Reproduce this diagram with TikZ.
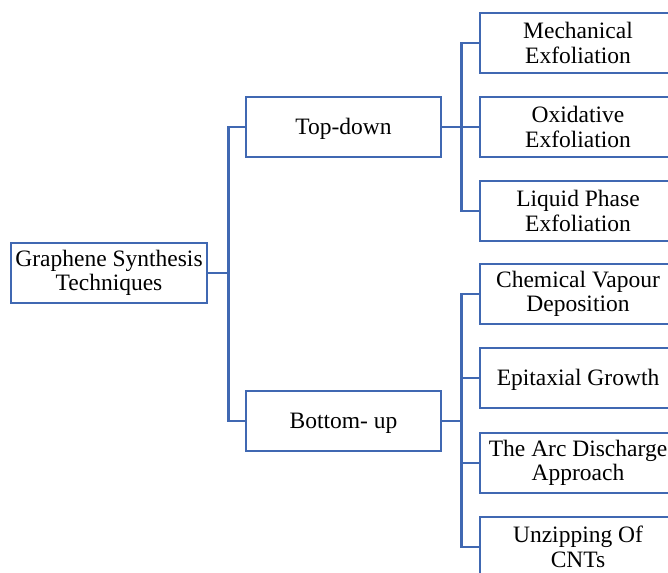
\documentclass[tikz,border=0pt]{standalone}
\usepackage{fontspec}
\setmainfont{Liberation Serif}
\definecolor{boxblue}{RGB}{64,104,178}
\newcommand{\lowr}[1]{\raisebox{-2pt}[\height][\depth]{#1}}
\begin{document}
\begin{tikzpicture}[x=1pt,y=-1pt,
  box/.style={draw=boxblue,line width=2.7pt,minimum width=196pt,minimum height=60pt,
    inner sep=0pt,align=center,font=\fontsize{23.5}{24.5}\selectfont},
  conn/.style={draw=boxblue,line width=2.7pt}]
\useasboundingbox (0,0) rectangle (668,572);
\clip (0,0) rectangle (668,572);
\node[box] (root) at (109,273) {Graphene Synthesis\\Techniques};
\node[box,minimum width=195pt] (td) at (343.5,127) {\lowr{Top-down}};
\node[box,minimum width=195pt] (bu) at (343.5,421) {\lowr{Bottom- up}};
\node[box] (m1) at (578,43) {Mechanical\\Exfoliation};
\node[box] (m2) at (578,127) {Oxidative\\Exfoliation};
\node[box] (m3) at (578,211) {Liquid Phase\\Exfoliation};
\node[box] (b1) at (578,294) {Chemical Vapour\\Deposition};
\node[box] (b2) at (578,378) {\lowr{Epitaxial Growth}};
\node[box] (b3) at (578,463) {The Arc Discharge\\Approach};
\node[box] (b4) at (578,547) {Unzipping Of\\CNTs};
\draw[conn] (root.east) -- ++(20,0) |- (td.west);
\draw[conn] (root.east) -- ++(20,0) |- (bu.west);
\foreach \n in {m1,m2,m3}{\draw[conn] (td.east) -- ++(19,0) |- (\n.west);}
\foreach \n in {b1,b2,b3,b4}{\draw[conn] (bu.east) -- ++(19,0) |- (\n.west);}
\end{tikzpicture}
\end{document}
